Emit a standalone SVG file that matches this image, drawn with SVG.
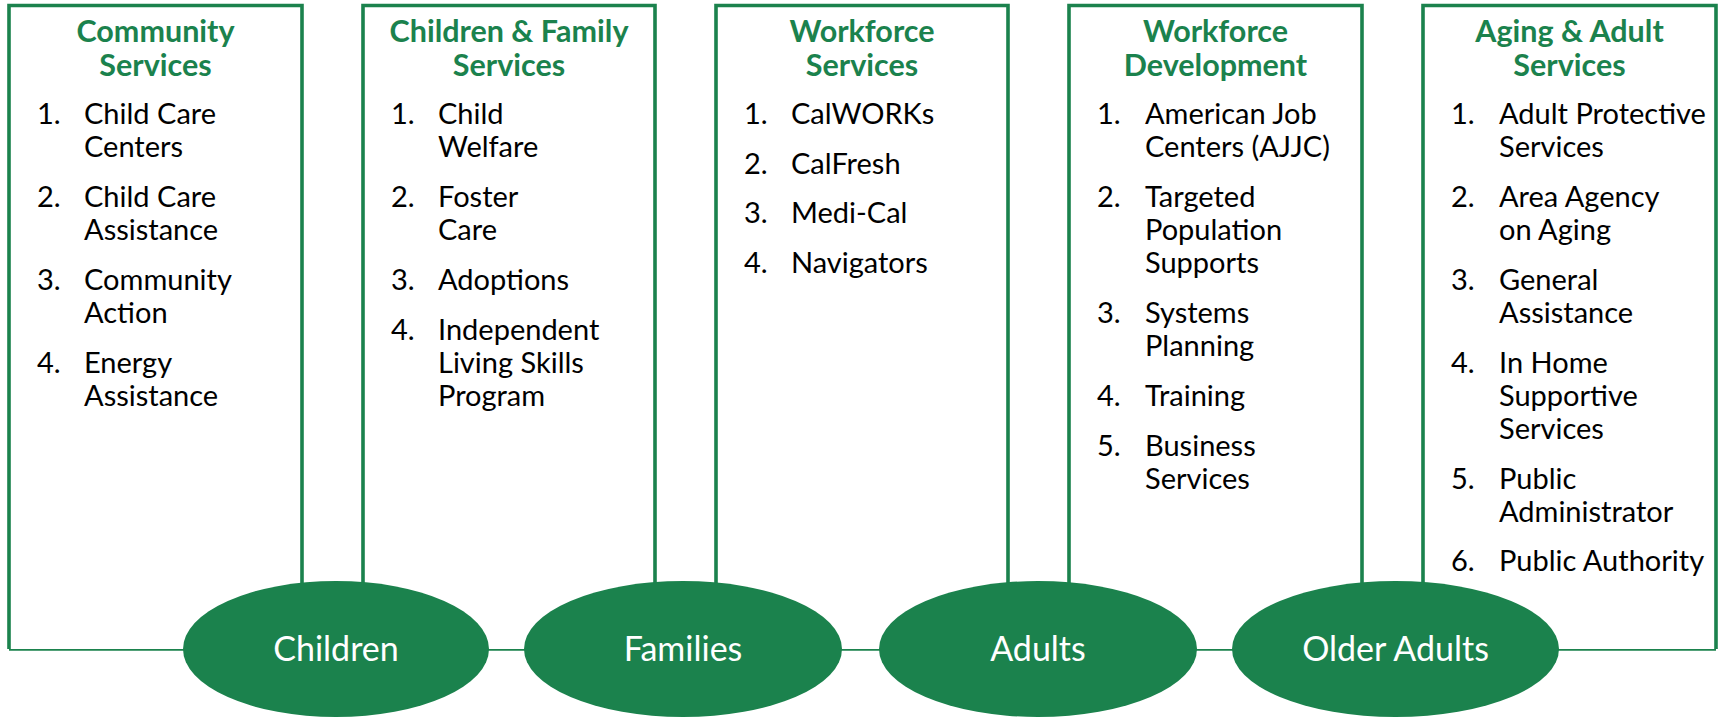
<svg xmlns="http://www.w3.org/2000/svg" width="1723" height="719" viewBox="0 0 1723 719">
<style>
.box{fill:#ffffff;stroke:#1b824d;stroke-width:3.6}
.conn{fill:none;stroke:#1b824d;stroke-width:3.6}
.ell{fill:#1b824d}
.hd{font-family:Lato,"Open Sans",sans-serif;font-weight:bold;font-size:30.5px;fill:#1b824d;text-anchor:middle}
.it{font-family:Lato,"Open Sans",sans-serif;font-size:29px;fill:#000000}
.el{font-family:Lato,"Open Sans",sans-serif;font-size:34px;fill:#ffffff;text-anchor:middle}
</style>
<rect width="1723" height="719" fill="#ffffff"/>
<g id="connectors">
<line class="conn" x1="9" y1="649" x2="1716" y2="649"/>
</g>
<g id="box-community">
<path class="box" d="M9,649 V5.5 H302 V649"/>
<text class="hd" x="155.5" y="42">Community</text>
<text class="hd" x="155.5" y="76">Services</text>
<text class="it" x="37" y="124">1.</text><text class="it" x="84" y="124">Child Care</text>
<text class="it" x="84" y="157">Centers</text>
<text class="it" x="37" y="207">2.</text><text class="it" x="84" y="207">Child Care</text>
<text class="it" x="84" y="240">Assistance</text>
<text class="it" x="37" y="290">3.</text><text class="it" x="84" y="290">Community</text>
<text class="it" x="84" y="323">Action</text>
<text class="it" x="37" y="373">4.</text><text class="it" x="84" y="373">Energy</text>
<text class="it" x="84" y="406">Assistance</text>
</g>
<g id="box-children-family">
<path class="box" d="M363,649 V5.5 H655 V649"/>
<text class="hd" x="509" y="42">Children &amp; Family</text>
<text class="hd" x="509" y="76">Services</text>
<text class="it" x="391" y="124">1.</text><text class="it" x="438" y="124">Child</text>
<text class="it" x="438" y="157">Welfare</text>
<text class="it" x="391" y="207">2.</text><text class="it" x="438" y="207">Foster</text>
<text class="it" x="438" y="240">Care</text>
<text class="it" x="391" y="290">3.</text><text class="it" x="438" y="290">Adoptions</text>
<text class="it" x="391" y="340">4.</text><text class="it" x="438" y="340">Independent</text>
<text class="it" x="438" y="373">Living Skills</text>
<text class="it" x="438" y="406">Program</text>
</g>
<g id="box-workforce-services">
<path class="box" d="M716,649 V5.5 H1008 V649"/>
<text class="hd" x="862" y="42">Workforce</text>
<text class="hd" x="862" y="76">Services</text>
<text class="it" x="744" y="124">1.</text><text class="it" x="791" y="124">CalWORKs</text>
<text class="it" x="744" y="174">2.</text><text class="it" x="791" y="174">CalFresh</text>
<text class="it" x="744" y="223">3.</text><text class="it" x="791" y="223">Medi-Cal</text>
<text class="it" x="744" y="273">4.</text><text class="it" x="791" y="273">Navigators</text>
</g>
<g id="box-workforce-development">
<path class="box" d="M1069,649 V5.5 H1362 V649"/>
<text class="hd" x="1215.5" y="42">Workforce</text>
<text class="hd" x="1215.5" y="76">Development</text>
<text class="it" x="1097" y="124">1.</text><text class="it" x="1145" y="124">American Job</text>
<text class="it" x="1145" y="157">Centers (AJJC)</text>
<text class="it" x="1097" y="207">2.</text><text class="it" x="1145" y="207">Targeted</text>
<text class="it" x="1145" y="240">Population</text>
<text class="it" x="1145" y="273">Supports</text>
<text class="it" x="1097" y="323">3.</text><text class="it" x="1145" y="323">Systems</text>
<text class="it" x="1145" y="356">Planning</text>
<text class="it" x="1097" y="406">4.</text><text class="it" x="1145" y="406">Training</text>
<text class="it" x="1097" y="456">5.</text><text class="it" x="1145" y="456">Business</text>
<text class="it" x="1145" y="489">Services</text>
</g>
<g id="box-aging-adult">
<path class="box" d="M1423,649 V5.5 H1716 V649"/>
<text class="hd" x="1569.5" y="42">Aging &amp; Adult</text>
<text class="hd" x="1569.5" y="76">Services</text>
<text class="it" x="1451" y="124">1.</text><text class="it" x="1499" y="124">Adult Protective</text>
<text class="it" x="1499" y="157">Services</text>
<text class="it" x="1451" y="207">2.</text><text class="it" x="1499" y="207">Area Agency</text>
<text class="it" x="1499" y="240">on Aging</text>
<text class="it" x="1451" y="290">3.</text><text class="it" x="1499" y="290">General</text>
<text class="it" x="1499" y="323">Assistance</text>
<text class="it" x="1451" y="373">4.</text><text class="it" x="1499" y="373">In Home</text>
<text class="it" x="1499" y="406">Supportive</text>
<text class="it" x="1499" y="439">Services</text>
<text class="it" x="1451" y="489">5.</text><text class="it" x="1499" y="489">Public</text>
<text class="it" x="1499" y="522">Administrator</text>
<text class="it" x="1451" y="571">6.</text><text class="it" x="1499" y="571">Public Authority</text>
</g>
<g id="node-children">
<ellipse class="ell" cx="336" cy="649" rx="153" ry="68"/>
<text class="el" x="336" y="661">Children</text>
</g>
<g id="node-families">
<ellipse class="ell" cx="683" cy="649" rx="159" ry="68"/>
<text class="el" x="683" y="661">Families</text>
</g>
<g id="node-adults">
<ellipse class="ell" cx="1038" cy="649" rx="159" ry="68"/>
<text class="el" x="1038" y="661">Adults</text>
</g>
<g id="node-older-adults">
<ellipse class="ell" cx="1395.5" cy="649" rx="163.5" ry="68"/>
<text class="el" x="1395.5" y="661">Older Adults</text>
</g>
</svg>
